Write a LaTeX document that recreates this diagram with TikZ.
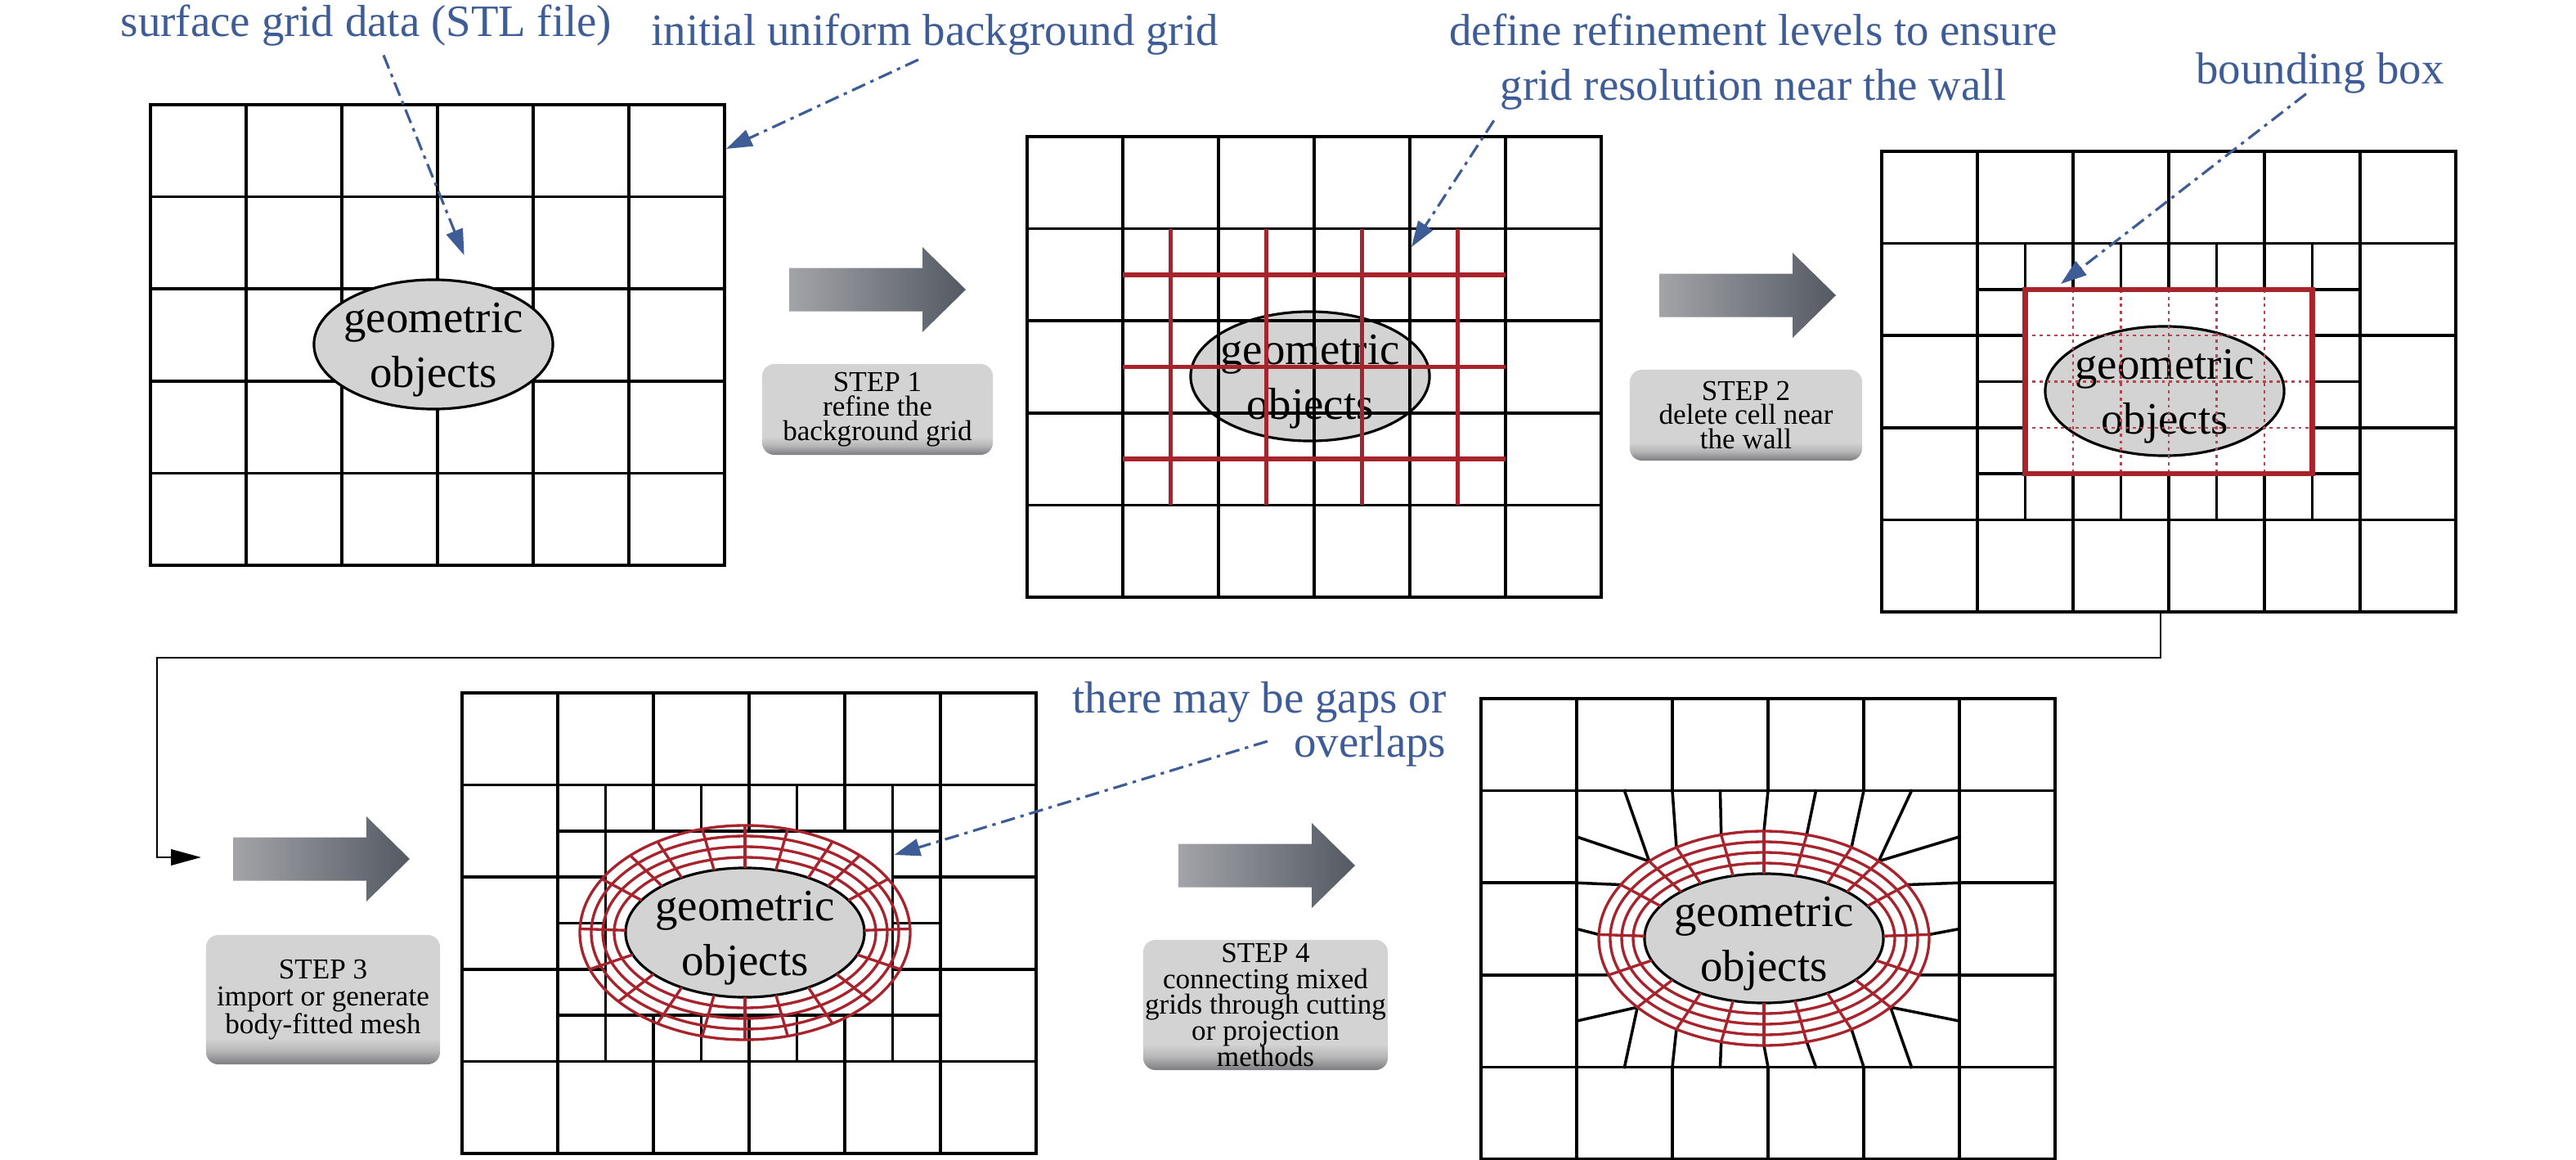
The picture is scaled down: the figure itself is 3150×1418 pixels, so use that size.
\documentclass[tikz,border=0pt]{standalone}
\usepackage{fontspec}
\setmainfont{Liberation Serif}
\usetikzlibrary{arrows.meta,shapes.geometric}
\definecolor{labelblue}{RGB}{62,92,150}
\definecolor{meshred}{RGB}{168,36,45}
\definecolor{objgray}{RGB}{211,211,211}
\definecolor{steplight}{RGB}{211,211,211}
\definecolor{stepdark}{RGB}{125,125,128}
\definecolor{arrowlight}{RGB}{162,164,168}
\definecolor{arrowdark}{RGB}{84,89,98}
\pgfdeclareverticalshading{stepshade}{100bp}{color(0bp)=(stepdark); color(25bp)=(stepdark); color(30bp)=(steplight!65!stepdark); color(35bp)=(steplight); color(100bp)=(steplight)}
\newcommand\steplines[1]{\fontsize{10}{#1}\selectfont\lineskiplimit=-100pt\relax}

\tikzset{
  gridline/.style={line width=1pt, line cap=rect},
  redline/.style={meshred, line width=1.6pt},
  boxline/.style={meshred, line width=1.8pt},
  boxdots/.style={meshred!85, line width=0.6pt, dash pattern=on 1.1pt off 1.4pt},
  meshline/.style={meshred, line width=0.95pt},
  objshape/.style={ellipse, draw, fill=objgray, line width=0.9pt, inner sep=0pt,
    minimum width=2.92cm, minimum height=1.58cm},
  objtext/.style={inner sep=0pt, align=center, font=\fontsize{15.6}{19}\selectfont},
  bluenote/.style={text=labelblue, inner sep=0pt, align=center, font=\fontsize{15.6}{19}\selectfont},
  callout/.style={labelblue, line width=0.9pt, dash pattern=on 5pt off 2pt on 1.2pt off 2pt,
    -{Triangle[length=9pt,width=6pt]}},
  stepbox/.style={rounded corners=0.15cm, shading=stepshade, inner sep=0pt, align=center,
    font=\steplines{8.5pt}},
  bigarrow/.style={left color=arrowlight, right color=arrowdark},
  feedback/.style={line width=0.75pt, -{Triangle[length=10.5pt,width=5.5pt]}}
}

\begin{document}
\begin{tikzpicture}[x=0.01cm, y=-0.01cm]
\useasboundingbox (0,0) rectangle (3150,1418);

% Grid 1: initial background grid
\begin{scope}[shift={(184,128)}]
\foreach \i in {0,...,6} \draw[gridline] (\i*117,0) -- (\i*117,563);
\foreach \j in {0,...,5} \draw[gridline] (0,\j*112.6) -- (702,\j*112.6);
\node[objshape] (obj1) at (346,293) {};
\node[objtext] (txt1) at ([yshift=-0.07cm]obj1.center) {geometric\\objects};
\end{scope}

% Grid 2: refined background grid
\begin{scope}[shift={(1256,167)}]
\node[objshape] (obj2) at (346,293) {};
\node[objtext] (txt2) at ([yshift=-0.07cm]obj2.center) {geometric\\objects};
\foreach \i in {0,...,6} \draw[gridline] (\i*117,0) -- (\i*117,563);
\foreach \j in {0,...,5} \draw[gridline] (0,\j*112.6) -- (702,\j*112.6);
\foreach \x in {175.5,292.5,409.5,526.5} \draw[redline] (\x,112.6) -- (\x,450.4);
\foreach \y in {168.9,281.5,394.1} \draw[redline] (117,\y) -- (585,\y);
\end{scope}

% Grids 3 and 4: refined ring around the wall
\foreach \gx/\gy in {2301/185, 565/847} {
\begin{scope}[shift={(\gx,\gy)}]
\draw[gridline] (0,0) rectangle (702,563);
\foreach \y in {112.6,450.4} \draw[gridline] (0,\y) -- (702,\y);
\foreach \x in {117,585} \draw[gridline] (\x,0) -- (\x,563);
\foreach \x in {234,351,468} {
  \draw[gridline] (\x,0) -- (\x,168.9);
  \draw[gridline] (\x,394.1) -- (\x,563);
}
\foreach \y in {225.2,337.8} {
  \draw[gridline] (0,\y) -- (175.5,\y);
  \draw[gridline] (526.5,\y) -- (702,\y);
}
\foreach \x in {292.5,409.5} {
  \draw[gridline] (\x,112.6) -- (\x,168.9);
  \draw[gridline] (\x,394.1) -- (\x,450.4);
}
\foreach \x in {175.5,526.5} \draw[gridline] (\x,112.6) -- (\x,450.4);
\foreach \y in {168.9,394.1} \draw[gridline] (117,\y) -- (585,\y);
\draw[gridline] (117,281.5) -- (175.5,281.5) (526.5,281.5) -- (585,281.5);
\end{scope}
}

% Grid 3: bounding box
\begin{scope}[shift={(2301,185)}]
\node[objshape] (obj3) at (346,293) {};
\node[objtext] (txt3) at ([yshift=-0.07cm]obj3.center) {geometric\\objects};
\foreach \x in {234,292.5,351,409.5,468} \draw[boxdots] (\x,168.9) -- (\x,394.1);
\foreach \y in {225.2,281.5,337.8} \draw[boxdots] (175.5,\y) -- (526.5,\y);
\draw[boxline] (175.5,168.9) rectangle (526.5,394.1);
\end{scope}

% Grid 4: body-fitted mesh
\begin{scope}[shift={(565,847)}]
\node[objshape] (obj4) at (346,293) {};
\node[objtext] (txt4) at ([yshift=-0.07cm]obj4.center) {geometric\\objects};
\foreach \k in {1,...,4}
  \draw[meshline] (346,293) ellipse [x radius={146+14*\k}, y radius={79+13*\k}];
\foreach \t in {2,30,46,58,75,90,105,122,134,150,178,200,220,238,255,270,285,302,320,340}
  \draw[meshline] ({346+146*cos(\t)},{293-79*sin(\t)}) -- ({346+202*cos(\t)},{293-131*sin(\t)});
\end{scope}

% Grid 5: connected mixed grid
\begin{scope}[shift={(1811,854)}]
\draw[gridline] (0,0) rectangle (702,563);
\foreach \y in {112.6,450.4} \draw[gridline] (0,\y) -- (702,\y);
\foreach \x in {117,585} \draw[gridline] (\x,0) -- (\x,563);
\foreach \x in {234,351,468} {
  \draw[gridline] (\x,0) -- (\x,112.6);
  \draw[gridline] (\x,450.4) -- (\x,563);
}
\foreach \y in {225.2,337.8} {
  \draw[gridline] (0,\y) -- (117,\y);
  \draw[gridline] (585,\y) -- (702,\y);
}
\foreach \bx/\by/\t in {175.5/112.6/134, 234/112.6/122, 292.5/112.6/105, 351/112.6/90,
    409.5/112.6/75, 468/112.6/58, 526.5/112.6/46,
    117/168.9/134, 117/225.2/150, 117/281.5/178, 117/337.8/200, 117/394.1/220,
    175.5/450.4/220, 234/450.4/238, 292.5/450.4/255, 351/450.4/270,
    409.5/450.4/285, 468/450.4/302, 526.5/450.4/320,
    585/168.9/46, 585/225.2/30, 585/281.5/2, 585/337.8/340, 585/394.1/320}
  \draw[gridline] (\bx,\by) -- ({346+202*cos(\t)},{293-131*sin(\t)});
\node[objshape] (obj5) at (346,293) {};
\node[objtext] (txt5) at ([yshift=-0.07cm]obj5.center) {geometric\\objects};
\foreach \k in {1,...,4}
  \draw[meshline] (346,293) ellipse [x radius={146+14*\k}, y radius={79+13*\k}];
\foreach \t in {2,30,46,58,75,90,105,122,134,150,178,200,220,238,255,270,285,302,320,340}
  \draw[meshline] ({346+146*cos(\t)},{293-79*sin(\t)}) -- ({346+202*cos(\t)},{293-131*sin(\t)});
\end{scope}

% Step arrows
\foreach \ax/\ay in {965/354, 2029/361, 285/1050, 1441/1058}
  \shade[bigarrow] (\ax,\ay-26.5) -- (\ax+163,\ay-26.5) -- (\ax+163,\ay-52) -- (\ax+216,\ay)
    -- (\ax+163,\ay+52) -- (\ax+163,\ay+26.5) -- (\ax,\ay+26.5) -- cycle;

% Step boxes
\node[stepbox, minimum width=2.82cm, minimum height=1.11cm] (step1) at (1073,500.5)
  {STEP 1\\refine the\\background grid};
\node[stepbox, minimum width=2.84cm, minimum height=1.11cm] (step2) at (2135,507.5)
  {STEP 2\\delete cell near\\the wall};
\node[stepbox, minimum width=2.86cm, minimum height=1.58cm, font=\steplines{9.6pt}]
  (step3) at (395,1222) {STEP 3\\import or generate\\body-fitted mesh};
\node[stepbox, minimum width=2.99cm, minimum height=1.59cm, font=\steplines{9pt}]
  (step4) at (1547.5,1228.5)
  {STEP 4\\connecting mixed\\grids through cutting\\or projection\\methods};

% Notes
\node[bluenote] (surfnote) at (448,31.5) {surface grid data (STL file)};
\node[bluenote] (initnote) at (1143,42) {initial uniform background grid};
\node[bluenote] (refnote) at (2144,76) {define refinement levels to ensure\\grid resolution near the wall};
\node[bluenote] (boxnote) at (2837,89) {bounding box};
\node[bluenote, anchor=east, align=right, font=\fontsize{15.6}{15.4}\selectfont] (gapnote)
  at (1769,885.5) {there may be gaps or\\overlaps};

% Callouts
\coordinate (surftip) at (567.6,312);
\coordinate (inittip) at (888,182);
\coordinate (reftip) at (1726,302);
\coordinate (boxtip) at (2520,347);
\coordinate (gaptip) at (1093.5,1045);
\draw[callout] ([xshift=0.21cm,yshift=-0.1cm]surfnote.south) -- (surftip);
\draw[callout] ([xshift=-0.2cm,yshift=-0.05cm]initnote.south) -- (inittip);
\draw[callout] ([xshift=-3.17cm,yshift=-0.12cm]refnote.south) -- (reftip);
\draw[callout] ([xshift=-0.17cm]boxnote.south) -- (boxtip);
\draw[callout] ([xshift=-2.19cm,yshift=0.32cm]gapnote.south east) -- (gaptip);

% Feedback line to step 3
\coordinate (fbstart) at (2642,748);
\coordinate (fbcorner) at (192,804);
\coordinate (fbend) at (246,1048);
\draw[feedback] (fbstart) |- (fbcorner) |- (fbend);
\end{tikzpicture}
\end{document}
